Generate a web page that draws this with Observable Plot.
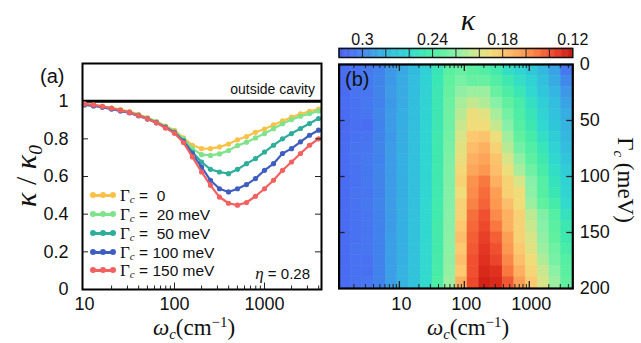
<!DOCTYPE html>
<html><head><meta charset="utf-8">
<script src="https://cdn.jsdelivr.net/npm/d3@7"></script>
<script src="https://cdn.jsdelivr.net/npm/@observablehq/plot@0.6"></script>
<style>
body{margin:0;background:#fff}
#wrap{position:relative;width:641px;height:343px;overflow:hidden;background:#fff;font-family:"Liberation Sans",Arial,sans-serif;color:#111}
.abs{position:absolute;white-space:nowrap;line-height:1}
.serif{font-family:"Liberation Serif","DejaVu Serif",serif}
.cen{transform:translate(-50%,-50%)}
.sub{font-size:0.65em;position:relative;top:0.3em}
.sup{font-size:0.65em;position:relative;top:-0.55em}
.leg{position:absolute;left:92px;font-size:15.5px;display:flex;align-items:center;height:16px;line-height:1}
.leg .sub{top:0.2em}
.sw{position:relative;width:22px;height:10px;margin-right:6px}
.sw .ln{position:absolute;left:0;right:0;top:4px;height:2.5px}
.sw .dt{position:absolute;top:2px;width:6px;height:6px;border-radius:50%}
</style>
</head><body>
<div id="wrap">
  <div id="pa" class="abs" style="left:0;top:0"></div>
  <div id="pb" class="abs" style="left:330px;top:0"></div>
  <div id="cb" class="abs" style="left:330px;top:0"></div>
</div>
<script>
// ---------- data: panel (a) ----------
const omega = [10, 12.6, 15.8, 20, 25.1, 31.6, 39.8, 50.1, 63.1, 79.4, 100, 126, 158, 200, 251, 316, 398, 501, 631, 794, 1000, 1259, 1585, 1995, 2512, 3162, 3981];
const ratioG0   = [0.985,0.978,0.972,0.965,0.955,0.945,0.930,0.912,0.892,0.868,0.845,0.805,0.766,0.748,0.748,0.757,0.772,0.795,0.812,0.835,0.852,0.874,0.895,0.915,0.932,0.946,0.958];
const ratioG20  = [0.983,0.978,0.972,0.962,0.953,0.942,0.927,0.910,0.890,0.865,0.840,0.800,0.748,0.716,0.712,0.720,0.738,0.764,0.782,0.805,0.828,0.854,0.880,0.902,0.920,0.934,0.948];
const ratioG50  = [0.982,0.977,0.970,0.960,0.950,0.940,0.925,0.908,0.887,0.862,0.835,0.790,0.730,0.677,0.638,0.624,0.615,0.638,0.668,0.695,0.730,0.766,0.800,0.828,0.855,0.881,0.908];
const ratioG100 = [0.980,0.975,0.968,0.958,0.948,0.938,0.922,0.905,0.885,0.860,0.832,0.785,0.722,0.650,0.580,0.535,0.518,0.535,0.557,0.589,0.633,0.668,0.722,0.748,0.784,0.819,0.846];
const ratioG150 = [0.985,0.980,0.972,0.962,0.952,0.940,0.924,0.906,0.885,0.858,0.830,0.780,0.704,0.624,0.553,0.491,0.458,0.448,0.462,0.495,0.535,0.580,0.633,0.677,0.722,0.766,0.800];
const seriesValues = [ratioG0, ratioG20, ratioG50, ratioG100, ratioG150];
const seriesNames = ["0", "20 meV", "50 meV", "100 meV", "150 meV"];
const seriesColors = ["#f9c247", "#7ee38a", "#2fae9c", "#3f5fc0", "#f2615f"];
const yTicksA = [0, 0.2, 0.4, 0.6, 0.8, 1];
const xLabelTicks = [10, 100, 1000];
const outsideCavity = 1;

// ---------- data: panel (b) ----------
const omegaEdges = [1.18, 1.78, 2.69, 4.07, 6.17, 9.33, 14.1, 21.4, 32.4, 49.0, 74.1, 112, 170, 257, 389, 589, 891, 1349, 2042, 3090, 4677];
const gammaEdges = [0,10,20,30,40,50,60,70,80,90,100,110,120,130,140,150,160,170,180,190,200];
const kappaGrid = [
[0.310,0.308,0.305,0.300,0.292,0.286,0.278,0.265,0.250,0.232,0.228,0.232,0.236,0.243,0.255,0.262,0.270,0.280,0.288,0.305],
[0.311,0.306,0.305,0.299,0.292,0.285,0.277,0.264,0.248,0.230,0.224,0.228,0.228,0.236,0.245,0.255,0.264,0.275,0.285,0.298],
[0.311,0.307,0.306,0.299,0.291,0.285,0.277,0.264,0.247,0.228,0.218,0.215,0.215,0.228,0.238,0.248,0.260,0.271,0.281,0.292],
[0.310,0.308,0.305,0.300,0.292,0.285,0.276,0.263,0.247,0.227,0.212,0.205,0.210,0.220,0.230,0.240,0.254,0.266,0.277,0.288],
[0.311,0.308,0.306,0.299,0.291,0.284,0.276,0.263,0.246,0.226,0.208,0.192,0.196,0.212,0.225,0.238,0.250,0.263,0.274,0.284],
[0.312,0.309,0.310,0.300,0.291,0.284,0.276,0.262,0.246,0.226,0.204,0.190,0.190,0.205,0.220,0.234,0.246,0.260,0.271,0.282],
[0.312,0.308,0.307,0.299,0.292,0.284,0.275,0.262,0.245,0.225,0.200,0.180,0.178,0.192,0.214,0.230,0.241,0.256,0.267,0.280],
[0.311,0.307,0.306,0.299,0.291,0.284,0.275,0.262,0.245,0.224,0.196,0.175,0.170,0.185,0.208,0.225,0.236,0.250,0.264,0.277],
[0.311,0.307,0.305,0.300,0.291,0.283,0.275,0.261,0.245,0.223,0.193,0.170,0.165,0.178,0.200,0.218,0.231,0.245,0.260,0.272],
[0.311,0.308,0.305,0.299,0.291,0.283,0.275,0.261,0.244,0.222,0.188,0.166,0.160,0.176,0.192,0.212,0.226,0.240,0.256,0.267],
[0.311,0.308,0.305,0.299,0.291,0.284,0.275,0.261,0.244,0.222,0.185,0.158,0.150,0.170,0.185,0.200,0.220,0.235,0.252,0.263],
[0.311,0.307,0.306,0.300,0.291,0.284,0.275,0.261,0.244,0.221,0.190,0.156,0.147,0.163,0.184,0.190,0.219,0.234,0.248,0.262],
[0.311,0.308,0.305,0.299,0.291,0.283,0.275,0.260,0.243,0.221,0.185,0.153,0.145,0.160,0.176,0.190,0.215,0.230,0.241,0.258],
[0.311,0.308,0.306,0.300,0.291,0.283,0.274,0.260,0.243,0.220,0.185,0.148,0.140,0.156,0.170,0.185,0.207,0.222,0.235,0.252],
[0.311,0.308,0.306,0.300,0.291,0.283,0.274,0.260,0.242,0.220,0.180,0.146,0.138,0.150,0.170,0.185,0.204,0.220,0.232,0.246],
[0.311,0.308,0.306,0.300,0.290,0.283,0.274,0.260,0.242,0.219,0.176,0.144,0.135,0.144,0.163,0.185,0.200,0.218,0.230,0.245],
[0.311,0.307,0.306,0.300,0.290,0.283,0.274,0.259,0.242,0.219,0.180,0.142,0.132,0.140,0.160,0.180,0.196,0.215,0.226,0.240],
[0.311,0.308,0.308,0.300,0.290,0.283,0.274,0.259,0.241,0.218,0.176,0.140,0.130,0.137,0.155,0.176,0.190,0.210,0.224,0.235],
[0.311,0.308,0.309,0.300,0.290,0.282,0.273,0.259,0.240,0.217,0.180,0.140,0.127,0.130,0.150,0.170,0.187,0.204,0.219,0.232],
[0.311,0.308,0.306,0.300,0.290,0.282,0.273,0.258,0.238,0.215,0.170,0.138,0.124,0.127,0.142,0.163,0.180,0.200,0.215,0.230]
];
const gammaTicks = [0, 50, 100, 150, 200];
const colorStops = [0.12,0.13,0.14,0.15,0.16,0.17,0.18,0.19,0.20,0.21,0.22,0.23,0.24,0.25,0.26,0.27,0.28,0.29,0.30,0.31,0.32];
const colorRange = ["#c81810","#e03020","#f05030","#f87840","#fc9850","#fcb060","#fcc870","#f0dc78","#d8e488","#b0ec98","#88f0a8","#60f0a0","#48eca8","#38e4b8","#30d8d0","#30c8d8","#34b8e0","#3c9ee6","#4282ec","#4a6ef2","#4a5eee"];
const cbTickValues = [0.3, 0.24, 0.18, 0.12];
const cbTickLabels = ["0.3", "0.24", "0.18", "0.12"];
const cbDividers = [0.30,0.28,0.26,0.24,0.22,0.20,0.18,0.16,0.14];

// ---------- tick helpers ----------
const minorLog = [2,3,4,5,6,7,8,9,20,30,40,50,60,70,80,90,200,300,400,500,600,700,800,900,2000,3000,4000];
const majorLog = [10, 100, 1000];

// ---------- panel (a) ----------
const WA = 330, HA = 343, mlA = 82, mrA = 9, mtA = 63, mbA = 54;
const pwA = WA - mlA - mrA, phA = HA - mtA - mbA;
const marksA = [Plot.ruleY([outsideCavity], {stroke: "#000", strokeWidth: 3})];
seriesValues.forEach((vals, s) => {
  const d = omega.map((w, i) => ({w, v: vals[i]}));
  marksA.push(Plot.line(d, {x: "w", y: "v", stroke: seriesColors[s], strokeWidth: 2.2}));
  marksA.push(Plot.dot(d, {x: "w", y: "v", fill: seriesColors[s], r: 2.6}));
});
marksA.push(
  Plot.tickX(minorLog.filter(d => d > 10), {x: d => d, insetTop: phA - 3.5, stroke: "#222"}),
  Plot.tickX([100, 1000], {x: d => d, insetTop: phA - 6.5, stroke: "#222"}),
  Plot.tickY(yTicksA.slice(1, 5), {y: d => d, insetRight: pwA - 6, stroke: "#222"}),
  Plot.tickY(yTicksA.slice(1, 5), {y: d => d, insetLeft: pwA - 6, stroke: "#222"}),
  Plot.frame({stroke: "#000", strokeWidth: 2}),
  Plot.axisY(yTicksA, {tickSize: 0, tickPadding: 14, tickFormat: d => String(d), fontSize: 18}),
  Plot.axisX(xLabelTicks, {tickSize: 0, tickPadding: 8, tickFormat: d => String(d), fontSize: 18, label: null})
);
const pa = Plot.plot({
  width: WA, height: HA,
  marginLeft: mlA, marginRight: mrA, marginTop: mtA, marginBottom: mbA,
  x: {type: "log", domain: [9.5, 4300], label: null},
  y: {domain: [0, 1.2], label: null},
  style: {fontFamily: "'Liberation Sans', Arial, sans-serif", color: "#111", background: "transparent", overflow: "visible"},
  marks: marksA
});
document.getElementById("pa").appendChild(pa);

// ---------- panel (b) ----------
const colorCfg = {type: "linear", domain: colorStops, range: colorRange, clamp: true};
const WB = 311, HB = 343, mlB = 8.6, mrB = 68.7, mtB = 64, mbB = 55;
const pwB = WB - mlB - mrB, phB = HB - mtB - mbB;
const cells = [];
kappaGrid.forEach((row, r) => row.forEach((k, c) => cells.push({
  x1: omegaEdges[c], x2: omegaEdges[c + 1], y1: gammaEdges[r], y2: gammaEdges[r + 1], k
})));
const pb = Plot.plot({
  width: WB, height: HB,
  marginLeft: mlB, marginRight: mrB, marginTop: mtB, marginBottom: mbB,
  x: {type: "log", domain: [omegaEdges[0], omegaEdges[omegaEdges.length - 1]], label: null},
  y: {domain: [0, 200], reverse: true, label: null},
  color: colorCfg,
  style: {fontFamily: "'Liberation Sans', Arial, sans-serif", color: "#111", background: "transparent", overflow: "visible"},
  marks: [
    Plot.rect(cells, {x1: "x1", x2: "x2", y1: "y1", y2: "y2", fill: "k", stroke: "k", strokeWidth: 0.6}),
    Plot.tickX(minorLog, {x: d => d, insetBottom: phB - 4, stroke: "#222"}),
    Plot.tickX(majorLog, {x: d => d, insetBottom: phB - 7, stroke: "#222", strokeWidth: 1.3}),
    Plot.tickX(minorLog, {x: d => d, insetTop: phB - 4, stroke: "#222"}),
    Plot.tickX(majorLog, {x: d => d, insetTop: phB - 7, stroke: "#222", strokeWidth: 1.3}),
    Plot.tickY([50, 100, 150], {y: d => d, insetRight: pwB - 6, stroke: "#222", strokeWidth: 1.3}),
    Plot.tickY([50, 100, 150], {y: d => d, insetLeft: pwB - 6, stroke: "#222", strokeWidth: 1.3}),
    Plot.frame({stroke: "#000", strokeWidth: 2.2}),
    Plot.axisY(gammaTicks, {anchor: "right", tickSize: 0, tickPadding: 7, fontSize: 18, label: null}),
    Plot.axisX(xLabelTicks, {tickSize: 0, tickPadding: 9, tickFormat: d => String(d), fontSize: 18, label: null,
      dx: 2})
  ]
});
document.getElementById("pb").appendChild(pb);

// ---------- colorbar ----------
const slices = d3.range(0.12, 0.32, 0.001).map(v => ({a: v, b: v + 0.001}));
const cb = Plot.plot({
  width: WB, height: 62,
  marginLeft: mlB, marginRight: mrB, marginTop: 48, marginBottom: 5,
  x: {domain: [0.32, 0.12], label: null},
  color: colorCfg,
  style: {fontFamily: "'Liberation Sans', Arial, sans-serif", color: "#111", background: "transparent", overflow: "visible"},
  marks: [
    Plot.rect(slices, {x1: "a", x2: "b", fill: "a", stroke: "a", strokeWidth: 0.5}),
    Plot.ruleX(cbDividers, {stroke: "#222", strokeWidth: 1}),
    Plot.frame({stroke: "#111", strokeWidth: 1.5}),
    Plot.axisX(cbTickValues, {anchor: "top", tickSize: 0, tickPadding: 4, fontSize: 16,
      tickFormat: (d, i) => cbTickLabels[i], label: null})
  ]
});
document.getElementById("cb").appendChild(cb);

// ---------- text & legend ----------
const wrap = document.getElementById("wrap");
function addHTML(html, style, cls) {
  const el = document.createElement("div");
  el.className = "abs " + (cls || "");
  el.setAttribute("style", style);
  el.innerHTML = html;
  wrap.appendChild(el);
  return el;
}
addHTML("(a)", "left:40px;top:66px;font-size:20px");
addHTML("(b)", "left:345px;top:69px;font-size:20px");
addHTML("outside cavity", "right:326px;top:82px;font-size:14px");
addHTML('<span class="serif" style="font-style:italic;font-size:17px">η</span> = 0.28', "right:331px;top:265px;font-size:15px");
addHTML('<span class="serif" style="font-style:italic">κ</span>', "left:468px;top:20px;font-size:30px", "cen");
const omegaLabel = '<i>ω</i><span class="sub"><i>c</i></span>(cm<span class="sup">−1</span>)';
addHTML(omegaLabel, "left:194px;top:327px;font-size:23px", "serif cen");
addHTML(omegaLabel, "left:468px;top:327px;font-size:23px", "serif cen");
addHTML('<i>κ</i> / <i>κ</i><span class="sub"><i>0</i></span>',
  "left:26px;top:176px;font-size:30px;transform:translate(-50%,-50%) rotate(-90deg)", "serif");
addHTML('Γ<span class="sub"><i>c</i></span> (meV)',
  "left:625px;top:180px;font-size:23px;transform:translate(-50%,-50%) rotate(90deg)", "serif");

const legendTops = [187, 206, 225, 244, 262];
seriesNames.forEach((name, s) => {
  const row = document.createElement("div");
  row.className = "leg";
  row.style.top = legendTops[s] + "px";
  const c = seriesColors[s];
  const pad = name.length < 7 ? "&nbsp;" : "";
  row.innerHTML =
    `<div class="sw"><div class="ln" style="background:${c}"></div>` +
    `<div class="dt" style="left:-2px;background:${c}"></div>` +
    `<div class="dt" style="left:8px;background:${c}"></div>` +
    `<div class="dt" style="left:18px;background:${c}"></div></div>` +
    `<span><span class="serif" style="font-size:17px">Γ<span class="sub"><i>c</i></span></span> = ${pad}${name}</span>`;
  wrap.appendChild(row);
});
</script>
</body></html>
